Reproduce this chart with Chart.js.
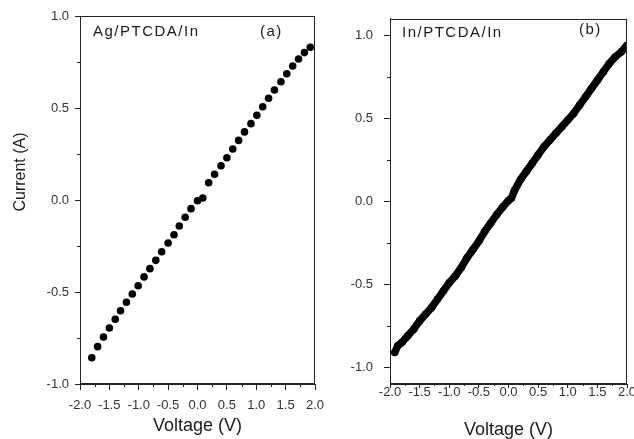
<!DOCTYPE html>
<html>
<head>
<meta charset="utf-8">
<script src="https://cdn.jsdelivr.net/npm/chart.js@4.4.1/dist/chart.umd.min.js"></script>
<style>
  html, body { margin: 0; padding: 0; background: #ffffff; }
  #wrap { position: relative; width: 634px; height: 439px; overflow: hidden; background: #fff; }
  canvas { position: absolute; top: 0; }
  #ca { left: 0; }
  #cb { left: 330px; }
</style>
</head>
<body>
<div id="wrap">
  <canvas id="ca" width="340" height="439"></canvas>
  <canvas id="cb" width="304" height="439"></canvas>
</div>
<script>
// ---- Data ----
const voltageA = [-1.80, -1.70, -1.60, -1.50, -1.40, -1.31, -1.21, -1.11, -1.01, -0.91,
                  -0.81, -0.71, -0.61, -0.50, -0.40, -0.31, -0.21, -0.11, 0.00, 0.09,
                  0.19, 0.29, 0.40, 0.50, 0.60, 0.70, 0.80, 0.91, 1.01, 1.11,
                  1.21, 1.31, 1.42, 1.52, 1.62, 1.72, 1.82, 1.92];
const currentA = [-0.857, -0.797, -0.745, -0.696, -0.648, -0.602, -0.556, -0.511, -0.466, -0.418,
                  -0.373, -0.328, -0.281, -0.234, -0.189, -0.141, -0.094, -0.047, -0.004, 0.011,
                  0.094, 0.140, 0.186, 0.230, 0.277, 0.324, 0.370, 0.415, 0.460, 0.507,
                  0.553, 0.598, 0.643, 0.686, 0.728, 0.766, 0.801, 0.830];

const voltageB = [-1.92, -1.87, -1.80, -1.70, -1.60, -1.50, -1.40, -1.30, -1.20, -1.10,
                  -1.00, -0.90, -0.80, -0.70, -0.60, -0.50, -0.40, -0.30, -0.20, -0.10,
                  0.00, 0.05, 0.10, 0.20, 0.30, 0.40, 0.50, 0.60, 0.70, 0.80,
                  0.90, 1.00, 1.10, 1.20, 1.30, 1.40, 1.50, 1.60, 1.70, 1.80,
                  1.90, 2.00];
const currentB = [-0.91, -0.87, -0.85, -0.81, -0.77, -0.72, -0.68, -0.64, -0.59, -0.54,
                  -0.49, -0.45, -0.40, -0.34, -0.29, -0.24, -0.18, -0.13, -0.08, -0.035,
                  0.005, 0.02, 0.065, 0.13, 0.18, 0.23, 0.28, 0.33, 0.37, 0.41,
                  0.45, 0.49, 0.53, 0.58, 0.63, 0.68, 0.73, 0.78, 0.83, 0.87,
                  0.90, 0.94];

const xMajorTicks = [-2.0, -1.5, -1.0, -0.5, 0.0, 0.5, 1.0, 1.5, 2.0];
const xMinorTicks = [-1.75, -1.25, -0.75, -0.25, 0.25, 0.75, 1.25, 1.75];
const yMajorTicks = [-1.0, -0.5, 0.0, 0.5, 1.0];
const yMinorTicks = [-0.75, -0.25, 0.25, 0.75];

const xTitle = 'Voltage (V)';
const yTitle = 'Current (A)';
const labelA = 'Ag/PTCDA/In';
const tagA = '(a)';
const labelB = 'In/PTCDA/In';
const tagB = '(b)';

const FONT = "'Liberation Sans', Arial, sans-serif";
const INK = '#1a1a1a';
const TICK_INK = '#333333';

function toPoints(xs, ys) { return xs.map((x, i) => ({ x: x, y: ys[i] })); }

// frame + minor ticks + annotations
function makeDecor(opts) {
  return {
    id: 'decor' + opts.key,
    afterDraw(chart) {
      const ctx = chart.ctx;
      const a = chart.chartArea;
      const xs = chart.scales.x, ys = chart.scales.y;
      ctx.save();
      ctx.strokeStyle = '#222';
      ctx.lineWidth = 1;
      ctx.strokeRect(Math.round(a.left) + 0.5, Math.round(a.top) + 0.5,
                     Math.round(a.right - a.left) - 1, Math.round(a.bottom - a.top) - 1);
      // minor ticks
      ctx.beginPath();
      xMinorTicks.forEach(v => {
        const px = Math.round(xs.getPixelForValue(v)) + 0.5;
        ctx.moveTo(px, a.bottom);
        ctx.lineTo(px, a.bottom + opts.xMinorLen);
      });
      yMinorTicks.forEach(v => {
        const py = Math.round(ys.getPixelForValue(v)) + 0.5;
        ctx.moveTo(a.left, py);
        ctx.lineTo(a.left - opts.yMinorLen, py);
      });
      ctx.stroke();
      // annotations
      ctx.fillStyle = INK;
      ctx.font = '15px ' + FONT;
      ctx.textBaseline = 'middle';
      ctx.textAlign = 'left';
      try { ctx.letterSpacing = '1.5px'; } catch (e) {}
      ctx.fillText(opts.label, a.left + opts.labelDx, opts.labelY);
      ctx.fillText(opts.tag, a.left + opts.tagDx, opts.tagY);
      try { ctx.letterSpacing = '0px'; } catch (e) {}
      if (opts.yTitle) {
        ctx.font = '16px ' + FONT;
        ctx.textAlign = 'center';
        ctx.translate(21, 172);
        ctx.rotate(-Math.PI / 2);
        ctx.fillText(opts.yTitle, 0, 0);
      }
      ctx.restore();
    }
  };
}

function axisX(tl, pad, titlePadBottom, height) {
  return {
    type: 'linear', min: -2, max: 2,
    afterBuildTicks(s) { s.ticks = xMajorTicks.map(v => ({ value: v })); },
    afterFit(s) { s.height = height; },
    grid: { drawOnChartArea: false, drawTicks: true, tickLength: tl, color: '#222', lineWidth: 1 },
    border: { display: true, color: '#222', width: 1 },
    ticks: { padding: pad, color: TICK_INK, font: { family: FONT, size: 13 }, maxRotation: 0,
             autoSkip: false, callback: v => Number(v).toFixed(1) },
    title: { display: true, text: xTitle, color: INK, font: { family: FONT, size: 18, lineHeight: 1 },
             padding: { top: 0, bottom: titlePadBottom } }
  };
}

function axisY(min, max, tl, pad, width) {
  return {
    type: 'linear', min: min, max: max,
    afterBuildTicks(s) { s.ticks = yMajorTicks.map(v => ({ value: v })); },
    afterFit(s) { s.width = width; },
    grid: { drawOnChartArea: false, drawTicks: true, tickLength: tl, color: '#222', lineWidth: 1 },
    border: { display: true, color: '#222', width: 1 },
    ticks: { padding: pad, color: TICK_INK, font: { family: FONT, size: 13 },
             autoSkip: false, callback: v => Number(v).toFixed(1) },
    title: { display: false }
  };
}

const common = {
  responsive: false, animation: false, devicePixelRatio: 1,
  plugins: { legend: { display: false }, tooltip: { enabled: false } }
};

new Chart(document.getElementById('ca'), {
  type: 'scatter',
  data: { datasets: [{
    data: toPoints(voltageA, currentA),
    pointRadius: 3.8, pointBackgroundColor: '#000', pointBorderColor: '#000', pointBorderWidth: 0,
    showLine: false
  }]},
  options: Object.assign({}, common, {
    layout: { autoPadding: false, padding: { left: 0, right: 25, top: 16, bottom: 0 } },
    scales: { x: axisX(6, 8, 4, 55), y: axisY(-1, 1, 5, 6, 80) }
  }),
  plugins: [makeDecor({ key: 'a', xMinorLen: 3, yMinorLen: 3, label: labelA, labelDx: 13, labelY: 32,
                        tag: tagA, tagDx: 180, tagY: 32, yTitle: yTitle })]
});

new Chart(document.getElementById('cb'), {
  type: 'line',
  data: { datasets: [{
    data: toPoints(voltageB, currentB),
    borderColor: '#000', borderWidth: 7.5, tension: 0,
    pointRadius: 3.8, pointBackgroundColor: '#000', pointBorderColor: '#000', pointBorderWidth: 0,
    fill: false
  }]},
  options: Object.assign({}, common, {
    layout: { autoPadding: false, padding: { left: 0, right: 7, top: 16, bottom: 0 } },
    scales: { x: axisX(4, -3, 0, 55), y: axisY(-1.1, 1.1, 6, 11, 60) }
  }),
  plugins: [makeDecor({ key: 'b', xMinorLen: 2, yMinorLen: 3, label: labelB, labelDx: 12, labelY: 33,
                        tag: tagB, tagDx: 189, tagY: 30 })]
});
</script>
</body>
</html>
